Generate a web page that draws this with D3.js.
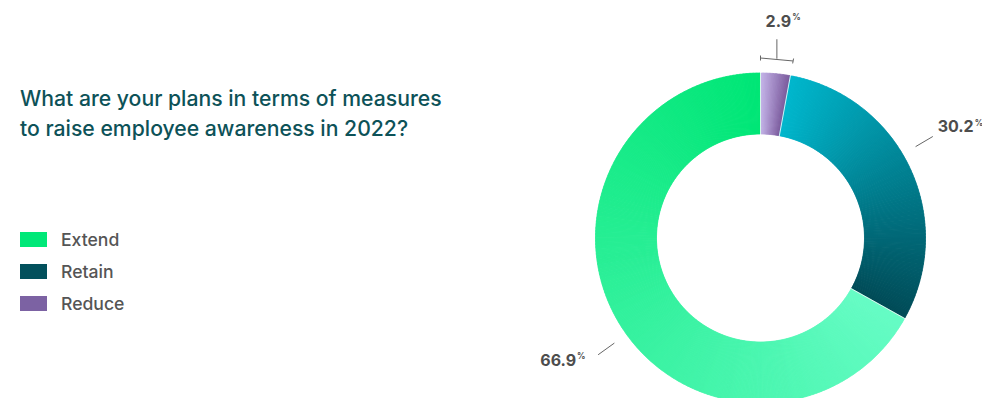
<!DOCTYPE html>
<html>
<head>
<meta charset="utf-8">
<script src="https://cdn.jsdelivr.net/npm/d3@7"></script>
<style>
  html, body { margin: 0; padding: 0; background: #fff; }
  svg { display: block; }
</style>
</head>
<body>
<svg id="chart" width="982" height="398"></svg>
<script>
// Survey answers, in legend order
const categories = ["Extend", "Retain", "Reduce"];
const values = [66.9, 30.2, 2.9];
const valueLabels = ["66.9", "30.2", "2.9"];
const legendColors = ["#00e878", "#02505c", "#7c62a3"];
// Colour ramps along each slice (start of slice -> end of slice, clockwise)
const rampStart = ["#66fcc5", "#00b7cd", "#c6b6ea"];
const rampEnd = ["#00e676", "#024b57", "#7a5a9c"];
const titleLines = ["What are your plans in terms of measures", "to raise employee awareness in 2022?"];

const svg = d3.select("#chart");
const font = "Inter, 'Noto Sans', sans-serif";

// Title
const title = svg.append("text")
  .attr("font-family", font)
  .attr("font-size", 21.2)
  .attr("font-weight", 500)
  .attr("fill", "#0d5258");
title.selectAll("tspan").data(titleLines).join("tspan")
  .attr("x", 20)
  .attr("y", (d, i) => 106 + i * 29.5)
  .text(d => d);

// Legend
const legend = svg.append("g");
const li = legend.selectAll("g").data(categories).join("g")
  .attr("transform", (d, i) => `translate(20, ${232 + i * 32})`);
li.append("rect").attr("width", 27).attr("height", 15)
  .attr("fill", (d, i) => legendColors[i]);
li.append("text").attr("x", 41).attr("y", 13.9)
  .attr("font-family", font).attr("font-size", 17.6).attr("font-weight", 500)
  .attr("fill", "#555").text(d => d);

// Donut
const cx = 760.5, cy = 238, rOuter = 165, rInner = 104;
const g = svg.append("g").attr("transform", `translate(${cx},${cy})`);

const order = [2, 1, 0]; // Reduce, Retain, Extend clockwise from 12 o'clock
const pie = d3.pie().sort(null).value(i => values[i]);
const arcs = pie(order);
const arcGen = d3.arc().innerRadius(rInner).outerRadius(rOuter);

arcs.forEach(a => {
  const idx = a.data;
  const interp = d3.interpolateRgb(rampStart[idx], rampEnd[idx]);
  const span = a.endAngle - a.startAngle;
  const steps = Math.max(8, Math.ceil(span / (Math.PI / 360)));
  const pieces = d3.range(steps).map(k => ({
    s: a.startAngle + span * k / steps,
    e: a.startAngle + span * (k + 1) / steps,
    t: (k + 0.5) / steps
  }));
  g.append("g").selectAll("path").data(pieces).join("path")
    .attr("d", p => arcGen({ startAngle: p.s, endAngle: Math.min(a.endAngle, p.e + 0.004) }))
    .attr("fill", p => interp(p.t))
    .attr("stroke", p => interp(p.t))
    .attr("stroke-width", 0.6)
    .attr("stroke-linejoin", "round");
});

// thin separators between slices
arcs.forEach(a => {
  const ang = a.startAngle;
  g.append("line")
    .attr("x1", (rInner - 1) * Math.sin(ang)).attr("y1", -(rInner - 1) * Math.cos(ang))
    .attr("x2", (rOuter + 1) * Math.sin(ang)).attr("y2", -(rOuter + 1) * Math.cos(ang))
    .attr("stroke", "#fff").attr("stroke-width", 0.8);
});

// Labels
const pt = (ang, r) => [r * Math.sin(ang), -r * Math.cos(ang)];
const labelColor = "#4d4d4d";
const lineColor = "#666";
const tilt = -5.3 * Math.PI / 180;

function valueLabel(x, y, txt, anchor) {
  const t = g.append("text")
    .attr("x", x).attr("y", y)
    .attr("font-family", font).attr("font-size", 16).attr("font-weight", 700)
    .attr("fill", labelColor).attr("text-anchor", anchor).text(txt);
  const w = t.node().getComputedTextLength();
  let left;
  if (anchor === "start") left = x;
  else if (anchor === "middle") left = x - w / 2;
  else { left = x - w - 11; t.attr("x", x - 11); }
  g.append("text")
    .attr("x", left + w + 1).attr("y", y - 6.5)
    .attr("font-family", font).attr("font-size", 8.3).attr("font-weight", 700)
    .attr("fill", labelColor).text("%");
}

arcs.forEach(a => {
  const idx = a.data;
  const mid = (a.startAngle + a.endAngle) / 2;
  if (values[idx] < 5) {
    // small slice: bracket spanning the slice, with a stem up to the label
    const p0 = pt(a.startAngle, 180), p1 = pt(a.endAngle, 180);
    const pm = pt(mid, 180);
    g.append("line").attr("x1", p0[0]).attr("y1", p0[1]).attr("x2", p1[0]).attr("y2", p1[1])
      .attr("stroke", lineColor).attr("stroke-width", 1);
    [a.startAngle, a.endAngle].forEach(ang => {
      const q0 = pt(ang, 177.5), q1 = pt(ang, 182.5);
      g.append("line").attr("x1", q0[0]).attr("y1", q0[1]).attr("x2", q1[0]).attr("y2", q1[1])
        .attr("stroke", lineColor).attr("stroke-width", 1);
    });
    g.append("line").attr("x1", pm[0]).attr("y1", pm[1]).attr("x2", pm[0]).attr("y2", pm[1] - 19.5)
      .attr("stroke", lineColor).attr("stroke-width", 1);
    valueLabel(pm[0] + 1.5, pm[1] - 32, valueLabels[idx], "middle");
  } else {
    const ang = mid + tilt;
    const l0 = pt(ang, 180), l1 = pt(ang, 200);
    g.append("line").attr("x1", l0[0]).attr("y1", l0[1]).attr("x2", l1[0]).attr("y2", l1[1])
      .attr("stroke", lineColor).attr("stroke-width", 1);
    const lp = pt(ang, 205);
    if (Math.sin(ang) >= 0) valueLabel(lp[0] + 0.5, lp[1] - 1.6, valueLabels[idx], "start");
    else valueLabel(lp[0] - 7, lp[1] + 8.3, valueLabels[idx], "end");
  }
});
</script>
</body>
</html>
